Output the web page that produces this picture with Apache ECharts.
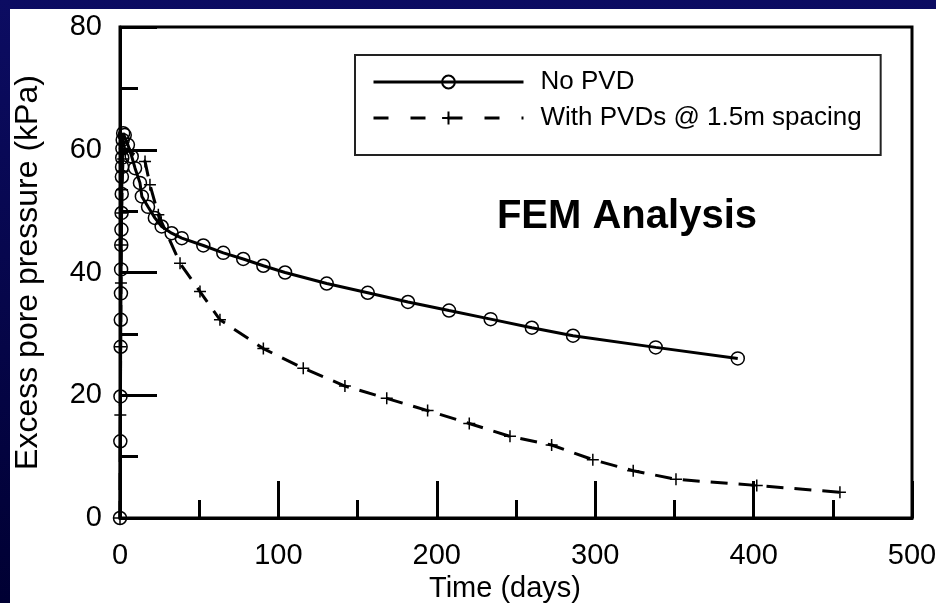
<!DOCTYPE html>
<html>
<head>
<meta charset="utf-8">
<script src="https://cdn.jsdelivr.net/npm/echarts@6/dist/echarts.min.js"></script>
<style>
  html, body { margin: 0; padding: 0; width: 936px; height: 603px; overflow: hidden;
    background: linear-gradient(#0c0c62, #000033); }
  #panel { position: absolute; left: 10px; top: 9px; right: 0; bottom: 0; background: #fff; }
  #chart { position: absolute; left: 0; top: 0; width: 936px; height: 603px; }
</style>
</head>
<body>
<div id="panel"></div>
<div id="chart"></div>
<script>
// Axis ticks
const xTicks = [0, 100, 200, 300, 400, 500];
const yTicks = [0, 20, 40, 60, 80];

// Series names
const seriesNames = ['No PVD', 'With PVDs @ 1.5m spacing'];

// Excess pore pressure without vertical drains
const noPvdDays = [0, 0.2, 0.3, 0.4, 0.5, 0.6, 0.7, 0.8, 0.9, 1.0,
  1.1, 1.2, 1.3, 1.4, 1.5, 1.7, 2.0, 3.0, 5.0, 7.4,
  9.5, 12.6, 13.8, 17.7, 22.0, 26.3, 32.6, 39.0, 52.6, 65.2,
  77.8, 90.5, 104.2, 130.5, 156.4, 181.8, 207.7, 234.0, 260.0, 286.0,
  338.2, 390.0];
const noPvdKpa = [0, 12.5, 19.8, 27.9, 32.3, 36.6, 40.5, 44.5, 47.0, 49.7,
  52.8, 55.6, 57.2, 58.7, 60.2, 61.6, 62.7, 62.4, 60.8, 58.9,
  57.0, 54.6, 52.4, 50.7, 48.9, 47.5, 46.4, 45.6, 44.4, 43.2,
  42.2, 41.1, 40.0, 38.2, 36.7, 35.2, 33.8, 32.4, 31.0, 29.7,
  27.8, 26.0];

// Excess pore pressure with PVDs at 1.5 m spacing
const pvdDays = [0, 0.2, 0.4, 0.6, 0.8, 1.0, 1.3, 1.6, 2.0, 3.0,
  15.8, 18.9, 24.2, 37.9, 50.5, 63.1, 90.5, 115.7, 142.0, 168.4,
  194.2, 220.5, 246.2, 272.5, 298.5, 324.0, 351.0, 402.0, 454.5];
const pvdKpa = [0, 16.8, 27.9, 38.3, 44.5, 49.7, 53.5, 56.5, 58.5, 60.2,
  58.1, 54.3, 49.4, 41.5, 36.9, 32.3, 27.6, 24.4, 21.5, 19.5,
  17.5, 15.4, 13.3, 11.9, 9.5, 7.7, 6.3, 5.3, 4.2];

const FONT = 'Arial, "Liberation Sans", Helvetica, sans-serif';
const CROSS = 'path://M0,5L10,5M5,0L5,10';

function pairs(xs, ys) {
  return xs.map((x, i) => [x, ys[i]]);
}

function axisCommon(ticks) {
  return {
    type: 'value',
    min: ticks[0],
    max: ticks[ticks.length - 1],
    interval: ticks[1] - ticks[0],
    axisLine: { show: true, lineStyle: { color: '#000', width: 3 } },
    axisTick: { show: true, inside: true, length: 37, lineStyle: { color: '#000', width: 3 } },
    minorTick: { show: true, splitNumber: 2, length: 18, lineStyle: { color: '#000', width: 3 } },
    splitLine: { show: false },
    minorSplitLine: { show: false }
  };
}

const chart = echarts.init(document.getElementById('chart'), null, { renderer: 'canvas' });

chart.setOption({
  animation: false,
  backgroundColor: 'transparent',
  textStyle: { fontFamily: FONT },
  grid: {
    left: 120, top: 27, right: 24, bottom: 85,
    show: true, borderColor: '#000', borderWidth: 3,
    backgroundColor: 'transparent',
    outerBoundsMode: 'none'
  },
  xAxis: Object.assign(axisCommon(xTicks), {
    name: 'Time (days)',
    nameLocation: 'middle',
    nameGap: 55,
    nameTextStyle: { fontSize: 29, color: '#000', fontFamily: FONT, padding: [0, 22, 0, 0] },
    axisLabel: { fontSize: 29, color: '#000', margin: 23, fontFamily: FONT }
  }),
  yAxis: Object.assign(axisCommon(yTicks), {
    name: 'Excess pore pressure (kPa)',
    nameLocation: 'middle',
    nameGap: 76,
    nameTextStyle: { fontSize: 32, color: '#000', fontFamily: FONT },
    axisLabel: { fontSize: 29, color: '#000', margin: 18, fontFamily: FONT }
  }),
  legend: {
    orient: 'vertical',
    left: 355, top: 55,
    padding: [14, 19, 24, 17],
    itemGap: 10,
    itemWidth: 150,
    itemHeight: 16,
    borderColor: '#222', borderWidth: 2,
    backgroundColor: '#fff',
    selectedMode: false,
    lineStyle: { width: 3 },
    textStyle: { fontSize: 26, color: '#000', fontFamily: FONT, lineHeight: 26, padding: [0, 0, 0, 12] },
    data: [
      { name: seriesNames[0] },
      { name: seriesNames[1], lineStyle: { width: 3, type: [15, 22] } }
    ]
  },
  graphic: [{
    type: 'text',
    right: 179,
    top: 197,
    silent: true,
    style: { text: 'FEM Analysis', font: 'bold 40px ' + FONT, fill: '#000' }
  }],
  series: [
    {
      name: seriesNames[0],
      type: 'line',
      data: pairs(noPvdDays, noPvdKpa),
      symbol: 'circle',
      symbolSize: 13,
      clip: false,
      silent: true,
      lineStyle: { color: '#000', width: 3 },
      itemStyle: { color: 'rgba(0,0,0,0)', borderColor: '#000', borderWidth: 1.5 }
    },
    {
      name: seriesNames[1],
      type: 'line',
      data: pairs(pvdDays, pvdKpa),
      symbol: CROSS,
      symbolSize: 12,
      clip: false,
      silent: true,
      lineStyle: { color: '#000', width: 3, type: [17, 11] },
      itemStyle: { color: 'rgba(0,0,0,0)', borderColor: '#000', borderWidth: 1.5 }
    }
  ]
});
</script>
</body>
</html>
